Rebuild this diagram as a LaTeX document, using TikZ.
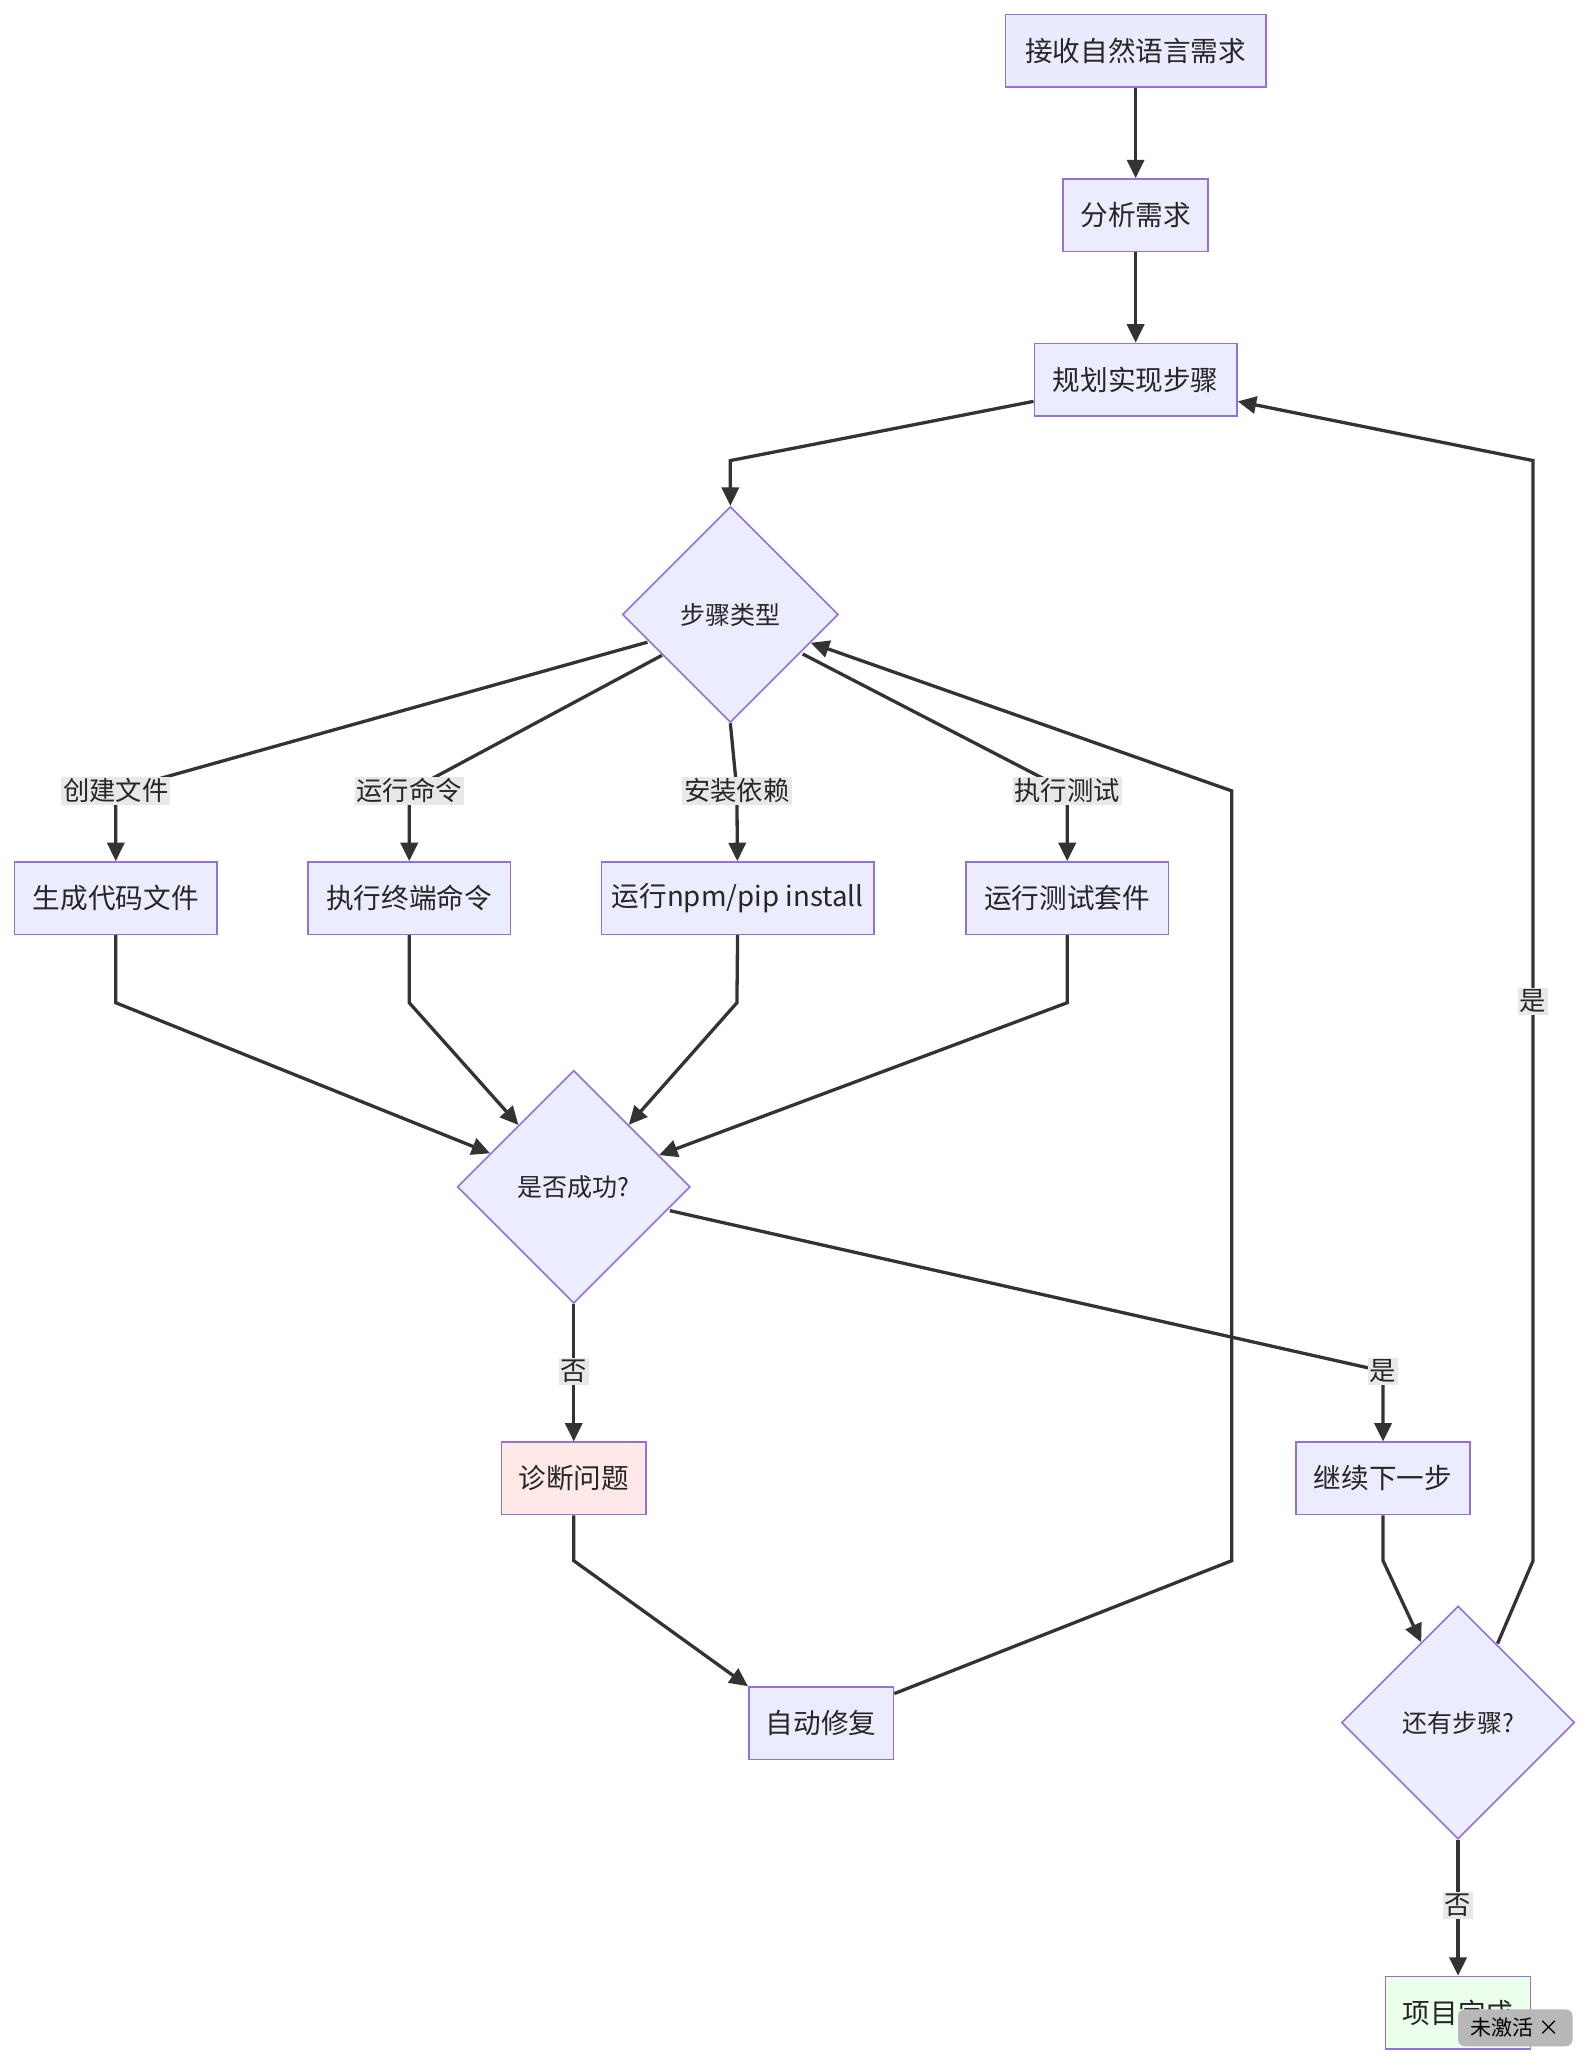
\documentclass[tikz,border=0pt]{standalone}
\usepackage{fontspec}
\setmainfont{Noto Sans CJK SC}
\usetikzlibrary{shapes.geometric,arrows.meta}
\definecolor{bd}{HTML}{9370DB}
\definecolor{fl}{HTML}{ECECFF}
\definecolor{ln}{HTML}{333333}
\begin{document}
\begin{tikzpicture}[x=1pt,y=-1pt,
 box/.style={draw=bd,fill=fl,line width=1.2pt,minimum height=55pt,inner sep=0pt,font=\fontsize{21}{24}\selectfont,text=black!85},
 dia/.style={draw=bd,fill=fl,line width=1.2pt,diamond,aspect=1,inner sep=0pt,font=\fontsize{19}{22}\selectfont,text=black!85},
 e/.style={draw=ln,line width=2.5pt,-{Triangle[length=14pt,width=13pt]}},
 lab/.style={fill=black!9,inner sep=1.5pt,font=\fontsize{20}{22}\selectfont,text=black!85}]
\useasboundingbox (0,0) rectangle (1210,1570);
\node[box,minimum width=198pt,fill=blue!8] (n1) at (863,38.5) {接收自然语言需求};
\node[box,minimum width=110pt] (n2) at (863,163.5) {分析需求};
\node[box,minimum width=154pt] (n3) at (863,288.5) {规划实现步骤};
\node[dia,minimum width=164pt,minimum height=164pt] (d1) at (555,467) {步骤类型};
\node[box,minimum width=154pt] (b1) at (88,682.5) {生成代码文件};
\node[box,minimum width=154pt] (b2) at (311,682.5) {执行终端命令};
\node[box,minimum width=207pt] (b3) at (560.5,682.5) {运行npm/pip install};
\node[box,minimum width=154pt] (b4) at (811,682.5) {运行测试套件};
\node[dia,minimum width=177pt,minimum height=177pt] (d2) at (436,902) {是否成功?};
\node[box,minimum width=110pt,fill=red!9] (f1) at (436,1123.5) {诊断问题};
\node[box,minimum width=132pt] (c1) at (1051,1123.5) {继续下一步};
\node[box,minimum width=110pt] (f2) at (624,1309.5) {自动修复};
\node[dia,minimum width=177pt,minimum height=177pt] (d3) at (1108,1309) {还有步骤?};
\node[box,minimum width=110pt,fill=green!8] (end) at (1108,1529.5) {项目完成};
\coordinate (l1) at (88,601); \coordinate (l2) at (311,601);
\coordinate (l3) at (560,601); \coordinate (l4) at (811,601);
\coordinate (l5) at (436,1042); \coordinate (l6) at (1051,1042);
\coordinate (l7) at (1165,761); \coordinate (l8) at (1108,1448);
\draw[e] (n1) -- (n2);
\draw[e] (n2) -- (n3);
\draw[e] (n3.west |- 0,305) -- (555,350) -- (d1.north);
\draw[e] (492,488) -- (l1) -- (b1);
\draw[e] (503,498) -- (l2) -- (b2);
\draw[e] (d1.south) -- (l3) -- (b3);
\draw[e] (610,497) -- (l4) -- (b4);
\draw[e] (b1.south) -- (88,762) -- (d2);
\draw[e] (b2.south) -- (311,762) -- (d2);
\draw[e] (b3.south) -- (560,762) -- (d2);
\draw[e] (b4.south) -- (811,762) -- (d2);
\draw[e] (d2.south) -- (l5) -- (f1);
\draw[e] (509,920) -- (l6) -- (c1);
\draw[e] (f1.south) -- (436,1186) -- (f2.north west);
\draw[e] (f2.east |- 0,1287) -- (936,1186) -- (936,601) -- (d1);
\draw[e] (c1.south) -- (1051,1186) -- (1080,1248);
\draw[e] (1138,1249) -- (1165,1186) -- (l7) -- (1165,350) -- (n3.east |- 0,305);
\draw[e] (d3.south) -- (l8) -- (end);
\node[lab] at (l1) {创建文件}; \node[lab] at (l2) {运行命令};
\node[lab] at (l3) {安装依赖}; \node[lab] at (l4) {执行测试};
\node[lab] at (l5) {否}; \node[lab] at (l6) {是};
\node[lab] at (l7) {是}; \node[lab] at (l8) {否};
\node[fill=black!28,rounded corners=5pt,minimum width=87pt,minimum height=28pt,inner sep=0pt,font=\fontsize{16}{18}\selectfont] (badge) at (1151.5,1541) {未激活 ×};
\end{tikzpicture}
\end{document}
